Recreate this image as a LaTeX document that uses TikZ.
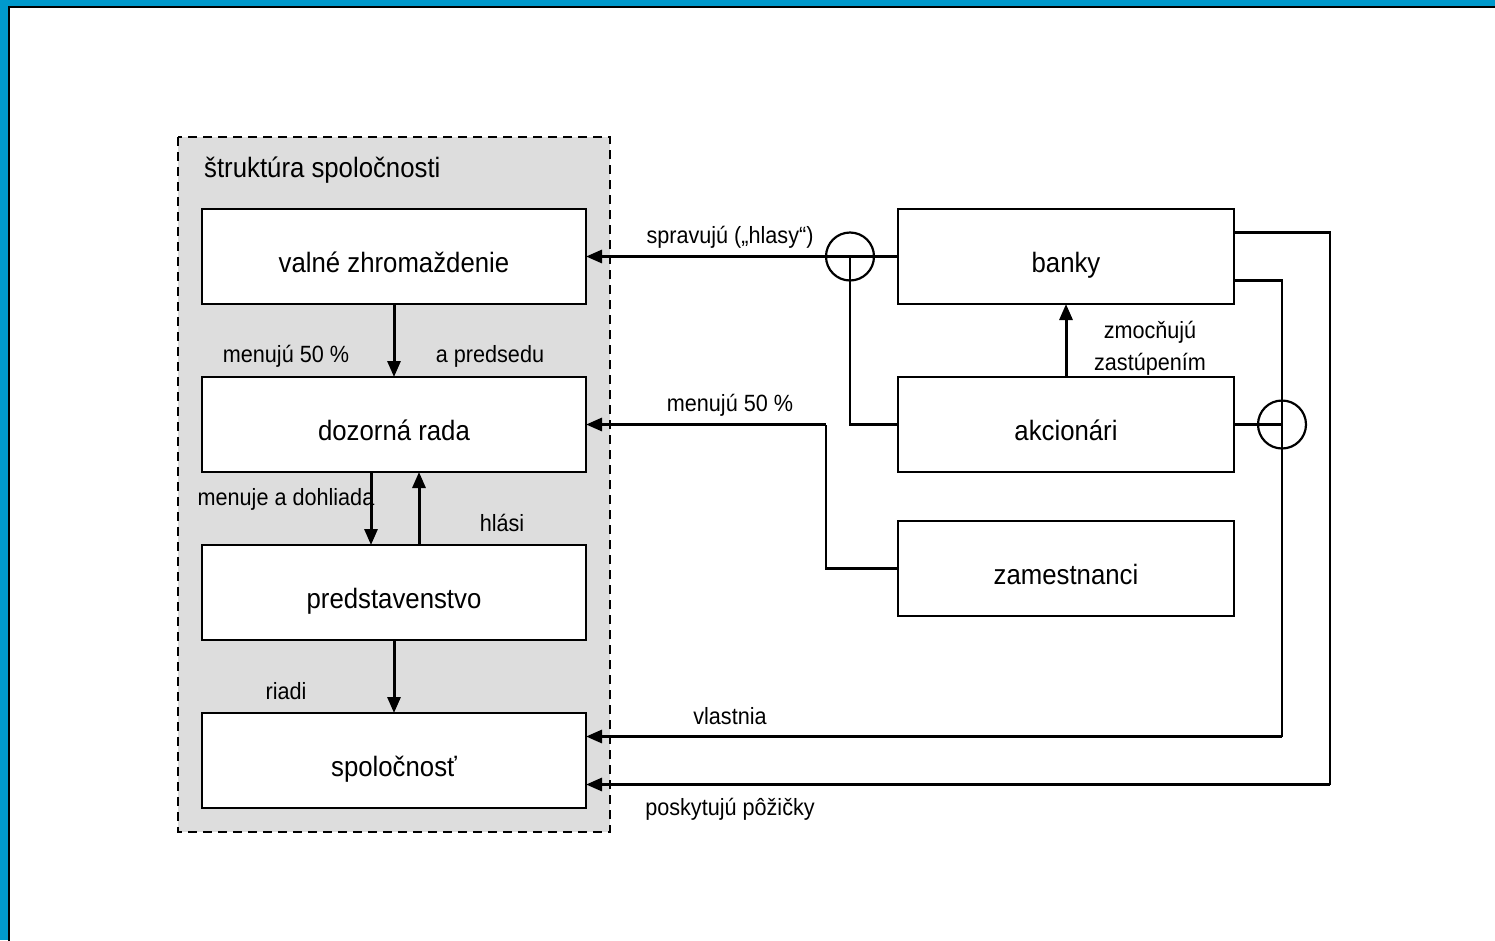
\documentclass[tikz,border=0pt]{standalone}
\usepackage{fontspec}
\setmainfont[FakeStretch=0.92]{Liberation Sans}
\usetikzlibrary{positioning, arrows.meta}
\definecolor{framecyan}{RGB}{0,153,204}
\definecolor{structgray}{RGB}{221,221,221}
\tikzset{
x=1pt, y=-1pt,
>={Triangle[length=16pt,width=13pt]}, % filled triangle heads
organ/.style={draw=black, line width=2pt, fill=white, minimum width=384pt, minimum height=95pt, inner sep=0pt, outer sep=0pt, text height=31pt, text depth=0pt, font=\fontsize{28}{32}\selectfont}, % boxes of the company
party/.style={organ, minimum width=336pt}, % boxes on the right
link/.style={->, line width=3pt},
tie/.style={line width=2.2pt},
hub/.style={circle, draw=black, line width=2.2pt, minimum size=48pt, inner sep=0pt},
rel/.style={font=\fontsize{23.5}{32}\selectfont, inner sep=0pt, align=center},
}
\begin{document}
\begin{tikzpicture}
      \useasboundingbox (0,0) rectangle (1495,940);
      % frame
      \fill[framecyan] (0,0) rectangle (1495,940);
      \draw[line width=2pt, fill=white] (9,7) rectangle (1505,950);

      % structure of the company
      \draw[dashed, dash pattern=on 9pt off 6pt, line width=2.6pt, fill=structgray] (178,137) rectangle (610,832);
      \node[rel, anchor=west, font=\fontsize{28}{32}\selectfont] (title) at (204,170) {štruktúra spoločnosti};

      \node[organ] (vz) at (394,256.5) {valné zhromaždenie};
      \node[organ, below=73pt of vz] (dr) {dozorná rada};
      \node[organ, below=73pt of dr] (pred) {predstavenstvo};
      \node[organ, below=73pt of pred] (spol) {spoločnosť};

      \node[party] (banky) at (1066,256.5) {banky};
      \node[party, below=73pt of banky] (akc) {akcionári};
      \node[party, below=49pt of akc] (zam) {zamestnanci};

      \coordinate (bend1) at (826,424.5);
      \coordinate (corner1) at (1282,736.5);
      \coordinate (corner2) at (1330,784.5);

      % inside the company
      \draw[link] (vz) -- (dr);
      \draw[link] ([xshift=-23pt]dr.south) -- ([xshift=-23pt]pred.north);
      \draw[link] ([xshift=25pt]pred.north) -- ([xshift=25pt]dr.south);
      \draw[link] (pred) -- (spol);

      % from the right
      \draw[link] (banky.west) -- (vz.east);
      \node[hub] (hub1) at (850,256.5) {};
      \draw[tie] (hub1.center) |- (akc.west);
      \draw[link] (akc.north) -- (banky.south);
      \draw[tie] (zam.west) -| (bend1);
      \draw[link] (bend1) -- (dr.east);
      \draw[tie] ([yshift=-24pt]banky.east) -| (corner1);
      \draw[link] (corner1) -- (spol.east |- corner1);
      \draw[tie] ([yshift=24pt]banky.east) -| (corner2);
      \draw[link] (corner2) -- (spol.east |- corner2);
      \node[hub] (hub2) at (1282,424.5) {};
      \draw[tie] (akc.east) -- (hub2.center);

      % labels
      \node[rel] (l1) at (286,356) {menujú 50 \%};
      \node[rel] (l2) at (490,356) {a predsedu};
      \node[rel] (l3) at (286,499) {menuje a dohliada};
      \node[rel] (l4) at (502,523) {hlási};
      \node[rel] (l5) at (286,691) {riadi};
      \node[rel] (l6) at (730,237) {spravujú („hlasy“)};
      \node[rel] (l7) at (730,405) {menujú 50 \%};
      \node[rel] (l8) at (1150,348) {zmocňujú\\zastúpením};
      \node[rel] (l9) at (730,716) {vlastnia};
      \node[rel] (l10) at (730,809) {poskytujú pôžičky};
    \end{tikzpicture}
\end{document}
